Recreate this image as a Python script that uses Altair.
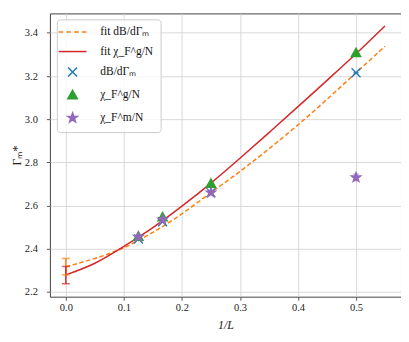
import altair as alt
import pandas as pd

# ---- data ----
inv_L = [0.125, 1/6, 0.25, 0.5]
dB_vals = [2.445, 2.525, 2.660, 3.215]
chig_vals = [2.455, 2.545, 2.700, 3.305]
chim_vals = [2.455, 2.535, 2.660, 2.730]
chim_err = [0.004, 0.005, 0.006, 0.015]

fit_x = [0.0, 0.05, 0.1, 0.15, 0.2, 0.25, 0.3, 0.35, 0.4, 0.45, 0.5, 0.55]
fit_dB = [2.317, 2.355, 2.405, 2.476, 2.562, 2.660, 2.758, 2.863, 2.974, 3.092, 3.215, 3.338]
fit_chig = [2.279, 2.333, 2.411, 2.498, 2.597, 2.704, 2.819, 2.938, 3.058, 3.180, 3.303, 3.432]

fit0_series = ["fit dB/dΓₘ", "fit χ_F^g/N"]
fit0_val = [2.317, 2.278]
fit0_err = [0.038, 0.040]

series = ["fit dB/dΓₘ", "fit χ_F^g/N", "dB/dΓₘ", "χ_F^g/N", "χ_F^m/N"]
colors = ["#ff7f0e", "#d62728", "#1f77b4", "#2ca02c", "#9467bd"]
shapes = [
    "M-3.1,0H-2.1M-1.37,0H-0.37M0.37,0H1.37M2.1,0H3.1",
    "M-3.1,0H3.1",
    "M-1,-1L1,1M-1,1L1,-1",
    "M0,-1.15L1.05,0.75L-1.05,0.75Z",
    "M0,-1.1L0.26,-0.36L1.05,-0.34L0.42,0.14L0.65,0.89L0,0.44L-0.65,0.89L-0.42,0.14L-1.05,-0.34L-0.26,-0.36Z",
]
fills = ["transparent", "transparent", "transparent", "#2ca02c", "#9467bd"]

# ---- tables ----
pts = pd.concat([
    pd.DataFrame({"x": inv_L, "y": dB_vals, "err": [0, 0, 0, 0], "series": series[2]}),
    pd.DataFrame({"x": inv_L, "y": chig_vals, "err": [0, 0, 0, 0], "series": series[3]}),
    pd.DataFrame({"x": inv_L, "y": chim_vals, "err": chim_err, "series": series[4]}),
])
pts["lo"] = pts["y"] - pts["err"]
pts["hi"] = pts["y"] + pts["err"]

fits = pd.concat([
    pd.DataFrame({"x": fit_x, "y": fit_dB, "series": series[0]}),
    pd.DataFrame({"x": fit_x, "y": fit_chig, "series": series[1]}),
])

err0 = pd.DataFrame({"x": [0.0, 0.0], "y": fit0_val, "err": fit0_err, "series": fit0_series})
err0["lo"] = err0["y"] - err0["err"]
err0["hi"] = err0["y"] + err0["err"]

FONT = "Liberation Serif"

xscale = alt.Scale(domain=[-0.0275, 0.5775], nice=False, zero=False)
yscale = alt.Scale(domain=[2.178, 3.49], nice=False, zero=False)

xenc = alt.X("x:Q", scale=xscale, title="1/L",
             axis=alt.Axis(values=[0.0, 0.1, 0.2, 0.3, 0.4, 0.5], format=".1f",
                           labelFont=FONT, titleFont=FONT, titleFontStyle="italic"))
yenc = alt.Y("y:Q", scale=yscale, title="Γₘ*",
             axis=alt.Axis(values=[2.2, 2.4, 2.6, 2.8, 3.0, 3.2, 3.4], format=".1f",
                           labelFont=FONT, titleFont=FONT))

legend = alt.Legend(
    title=None, orient="none", legendX=7, legendY=6,
    padding=7, rowPadding=6.5, symbolSize=81, symbolOffset=3, labelOffset=22,
    labelFont=FONT, labelFontSize=11.5, labelColor="#111",
    fillColor="rgba(255,255,255,0.8)", strokeColor="#cccccc", cornerRadius=3,
    symbolStrokeWidth=1.5, symbolOpacity=1,
)
color_scale = alt.Scale(domain=series, range=colors)
color_enc = alt.Color("series:N", scale=color_scale, legend=legend)

line_dB = alt.Chart(fits).transform_filter(
    alt.datum.series == series[0]
).mark_line(strokeWidth=1.5, strokeDash=[4.5, 2.5], interpolate="natural").encode(
    x=xenc, y=yenc, color=color_enc)

line_chi = alt.Chart(fits).transform_filter(
    alt.datum.series == series[1]
).mark_line(strokeWidth=1.5, interpolate="natural").encode(
    x=xenc, y=yenc, color=color_enc)

err_rule = alt.Chart(err0).mark_rule(strokeWidth=1.5).encode(
    x=xenc, y="lo:Q", y2="hi:Q", color=color_enc)
err_cap_lo = alt.Chart(err0).mark_tick(orient="horizontal", size=8, thickness=1.5).encode(
    x=xenc, y=alt.Y("lo:Q"), color=color_enc)
err_cap_hi = alt.Chart(err0).mark_tick(orient="horizontal", size=8, thickness=1.5).encode(
    x=xenc, y=alt.Y("hi:Q"), color=color_enc)

pt_rule = alt.Chart(pts).mark_rule(strokeWidth=1.2).encode(
    x=xenc, y="lo:Q", y2="hi:Q", color=color_enc)
pt_cap_lo = alt.Chart(pts).mark_tick(orient="horizontal", size=5, thickness=1.2).encode(
    x=xenc, y=alt.Y("lo:Q"), color=color_enc)
pt_cap_hi = alt.Chart(pts).mark_tick(orient="horizontal", size=5, thickness=1.2).encode(
    x=xenc, y=alt.Y("hi:Q"), color=color_enc)

points = alt.Chart(pts).mark_point(filled=False, size=81, strokeWidth=1.3, opacity=1).encode(
    x=xenc, y=yenc, color=color_enc,
    fill=alt.Fill("series:N", scale=alt.Scale(domain=series, range=fills), legend=legend),
    shape=alt.Shape("series:N", scale=alt.Scale(domain=series, range=shapes), legend=legend),
)

chart = alt.layer(
    line_dB, line_chi, err_rule, err_cap_lo, err_cap_hi,
    pt_rule, pt_cap_lo, pt_cap_hi, points,
).properties(
    width=352, height=284,
    autosize=alt.AutoSizeParams(type="none"),
    padding={"left": 42, "top": 5, "right": 0, "bottom": 36},
    background="white",
).configure(
    font=FONT,
).configure_view(
    stroke="#444444", strokeWidth=1,
).configure_axis(
    domain=False, grid=True, gridColor="#d4d4d4", gridWidth=0.9,
    tickColor="#444444", tickSize=3.5, tickWidth=0.9,
    labelFont=FONT, labelFontSize=10.5, labelColor="#222222",
    titleFont=FONT, titleFontSize=12, titleFontWeight="normal", titleColor="#222222",
).configure_axisX(
    labelPadding=2, titlePadding=7,
).configure_axisY(
    labelPadding=9, titlePadding=1,
)

chart.save("out.html", embed_options={"renderer": "svg", "actions": False})
